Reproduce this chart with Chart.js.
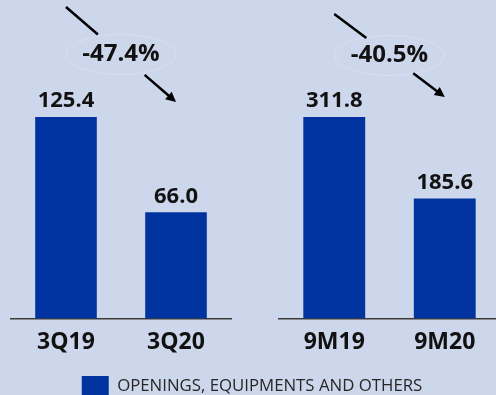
<!DOCTYPE html>
<html>
<head>
<meta charset="utf-8">
<title>Openings, equipments and others</title>
<script src="https://cdn.jsdelivr.net/npm/chart.js@4.4.0/dist/chart.umd.min.js"></script>
<style>
  html, body { margin: 0; padding: 0; background: #cdd7ec; overflow: hidden; }
  #wrap { position: relative; width: 496px; height: 395px; overflow: hidden; }
  #wrap canvas { position: absolute; top: 0; }
</style>
</head>
<body>
<div id="wrap">
  <canvas id="quarter" width="504" height="406" style="left:0"></canvas>
  <canvas id="ninemonths" width="248" height="406" style="left:268px"></canvas>
</div>
<script>
var seriesLabel = 'OPENINGS, EQUIPMENTS AND OTHERS';
var quarterLabels = ['3Q19', '3Q20'];
var quarterValues = [125.4, 66.0];
var nineMonthLabels = ['9M19', '9M20'];
var nineMonthValues = [311.8, 185.6];

var barColor = '#0033a0';
var fontFamily = '"Open Sans", "Liberation Sans", sans-serif';
var headroom = 1.58;

// value printed above each bar
var valueLabels = {
  id: 'valueLabels',
  afterDatasetsDraw: function (chart) {
    var ctx = chart.ctx;
    var data = chart.data.datasets[0].data;
    ctx.save();
    ctx.font = 'bold 22px ' + fontFamily;
    ctx.fillStyle = '#111';
    ctx.textAlign = 'center';
    ctx.textBaseline = 'middle';
    chart.getDatasetMeta(0).data.forEach(function (bar, i) {
      ctx.fillText(data[i].toFixed(1), bar.x, bar.y - 16);
    });
    ctx.restore();
  }
};

// % change from first to second bar, written on a broken arrow
var changeArrow = {
  id: 'changeArrow',
  afterDatasetsDraw: function (chart, args, opts) {
    var ctx = chart.ctx;
    var data = chart.data.datasets[0].data;
    var bars = chart.getDatasetMeta(0).data;
    var x0 = bars[0].x, x1 = bars[1].x;
    var y0 = chart.chartArea.top + opts.top, y1 = chart.chartArea.top + opts.bottom;
    var cx = (x0 + x1) / 2, cy = (y0 + y1) / 2;
    var pct = (data[1] - data[0]) / data[0] * 100;
    function at(t) { return [x0 + (x1 - x0) * t, y0 + (y1 - y0) * t]; }

    ctx.save();
    ctx.strokeStyle = 'rgba(222,228,244,0.6)';
    ctx.lineWidth = 1;
    ctx.beginPath();
    ctx.ellipse(cx, cy, 55, 20, 0, 0, Math.PI * 2);
    ctx.stroke();

    ctx.strokeStyle = '#000';
    ctx.fillStyle = '#000';
    ctx.lineWidth = 2.5;
    var a = at(0), b = at(0.29), c = at(0.715), d = at(1);
    var ang = Math.atan2(d[1] - c[1], d[0] - c[0]);
    var head = 10;
    ctx.beginPath();
    ctx.moveTo(a[0], a[1]);
    ctx.lineTo(b[0], b[1]);
    ctx.moveTo(c[0], c[1]);
    ctx.lineTo(d[0] - Math.cos(ang) * head * 0.8, d[1] - Math.sin(ang) * head * 0.8);
    ctx.stroke();
    ctx.beginPath();
    ctx.moveTo(d[0], d[1]);
    ctx.lineTo(d[0] - Math.cos(ang) * head + Math.sin(ang) * 5, d[1] - Math.sin(ang) * head - Math.cos(ang) * 5);
    ctx.lineTo(d[0] - Math.cos(ang) * head - Math.sin(ang) * 5, d[1] - Math.sin(ang) * head + Math.cos(ang) * 5);
    ctx.closePath();
    ctx.fill();

    ctx.font = 'bold 24px ' + fontFamily;
    ctx.fillStyle = '#111';
    ctx.textAlign = 'center';
    ctx.textBaseline = 'middle';
    ctx.fillText(pct.toFixed(1) + '%', cx, cy);
    ctx.restore();
  }
};

function xAxis() {
  return {
    grid: { display: false, drawTicks: false },
    border: { display: true, color: '#3a3a3a', width: 1.5 },
    ticks: { color: '#111', padding: 10, font: { family: fontFamily, size: 23, weight: 'bold' } }
  };
}

function dataset(values) {
  return {
    label: seriesLabel,
    data: values,
    backgroundColor: barColor,
    categoryPercentage: 1,
    barPercentage: 0.56
  };
}

var quarterChart = new Chart(document.getElementById('quarter'), {
  type: 'bar',
  data: { labels: quarterLabels, datasets: [dataset(quarterValues)] },
  options: {
    responsive: false,
    animation: false,
    plugins: {
      legend: {
        position: 'bottom',
        labels: {
          boxWidth: 27,
          boxHeight: 20,
          color: '#262626',
          padding: 10,
          font: { family: fontFamily, size: 16.8 }
        }
      },
      tooltip: { enabled: false },
      changeArrow: { top: 7, bottom: 102 }
    },
    scales: {
      x: xAxis(),
      y: {
        position: 'right',
        min: 0,
        max: Math.max.apply(null, quarterValues) * headroom,
        ticks: { display: false },
        grid: { display: false },
        border: { display: false },
        afterFit: function (s) { s.width = 273; }
      },
      gap: {
        axis: 'y',
        type: 'linear',
        position: 'left',
        ticks: { display: false },
        grid: { display: false },
        border: { display: false },
        afterFit: function (s) { s.width = 11; }
      }
    }
  },
  plugins: [valueLabels, changeArrow]
});

var nineMonthChart = new Chart(document.getElementById('ninemonths'), {
  type: 'bar',
  data: { labels: nineMonthLabels, datasets: [dataset(nineMonthValues)] },
  options: {
    responsive: false,
    animation: false,
    layout: {
      padding: { left: 11, right: 16, top: 0, bottom: quarterChart.height - quarterChart.scales.x.bottom }
    },
    plugins: {
      legend: { display: false },
      tooltip: { enabled: false },
      changeArrow: { top: 14, bottom: 97 }
    },
    scales: {
      x: xAxis(),
      y: {
        display: false,
        min: 0,
        max: Math.max.apply(null, nineMonthValues) * headroom
      }
    }
  },
  plugins: [valueLabels, changeArrow]
});
</script>
</body>
</html>
